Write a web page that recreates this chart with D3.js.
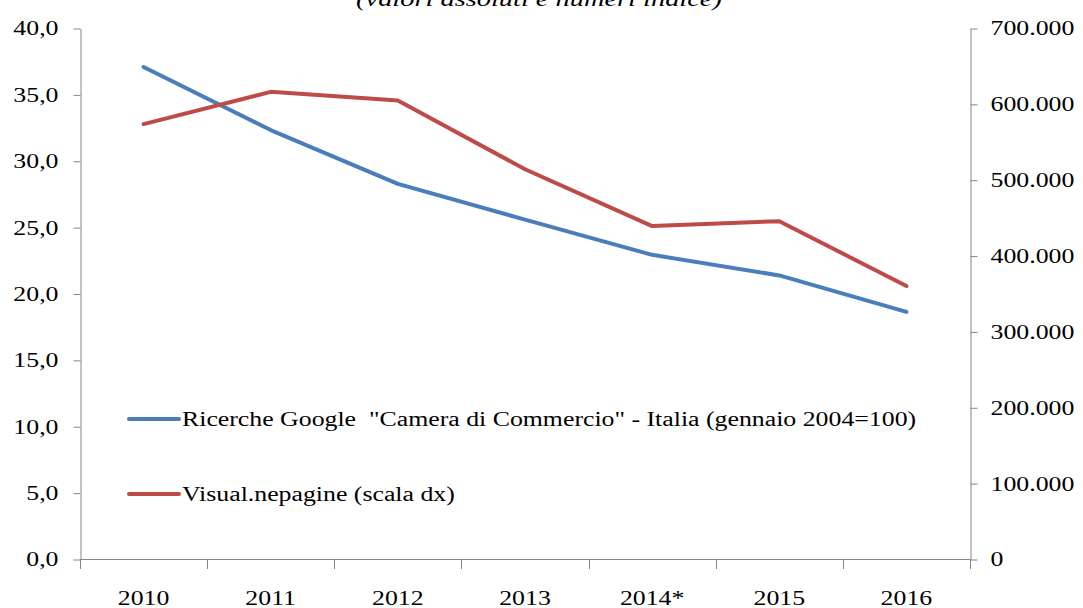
<html>
<head>
<script src="https://d3js.org/d3.v7.min.js"></script>
<style>
body { margin: 0; background: #fff; }
svg text { font-family: 'Liberation Serif', 'Times New Roman', serif; fill: #000; }
</style>
</head>
<body>
<svg width="1083" height="608"></svg>
<script>
var years = ["2010", "2011", "2012", "2013", "2014*", "2015", "2016"];
var googleSearches = [37.1, 32.35, 28.3, 25.6, 22.95, 21.4, 18.65];
var visualPages = [574000, 616500, 605000, 514500, 439500, 446000, 360500];
var leftTicks = [0, 5, 10, 15, 20, 25, 30, 35, 40];
var rightTicks = [0, 100000, 200000, 300000, 400000, 500000, 600000, 700000];
var seriesNames = ["Ricerche Google  \"Camera di Commercio\" - Italia (gennaio 2004=100)", "Visual.nepagine (scala dx)"];
var title = "(valori assoluti e numeri indice)";

var svg = d3.select("svg");
var stretch = 1.29; // the picture's text is a bit wide
var axisColor = "#868686";

var x = d3.scaleBand().domain(years).range([80, 970]);
var yL = d3.scaleLinear().domain([0, 40]).range([559.5, 28.5]);
var yR = d3.scaleLinear().domain([0, 700000]).range([559.5, 28.5]);

var it = d3.formatLocale({decimal: ",", thousands: ".", grouping: [3], currency: ["", ""]});
var fmtL = it.format(".1f");
var fmtR = it.format(",.0f");

function widen(sel) {
	sel.each(function() {
		var w = this.getComputedTextLength();
		d3.select(this).attr("textLength", w * stretch).attr("lengthAdjust", "spacingAndGlyphs");
	});
}

// left axis
var gl = svg.append("g").attr("transform", "translate(80.5,0)")
	.call(d3.axisLeft(yL).tickValues(leftTicks).tickFormat(fmtL).tickSize(7).tickSizeOuter(0).tickPadding(15));
// right axis
var gr = svg.append("g").attr("transform", "translate(970.5,0)")
	.call(d3.axisRight(yR).tickValues(rightTicks).tickFormat(fmtR).tickSize(7).tickSizeOuter(0).tickPadding(13));

[gl, gr].forEach(function(g) {
	g.select(".domain").attr("stroke", axisColor);
	g.selectAll(".tick line").attr("stroke", axisColor);
	g.selectAll(".tick text").attr("font-size", 20).attr("font-family", null).attr("fill", "#000").call(widen);
});

// category axis
var gx = svg.append("g");
gx.append("line").attr("x1", 80).attr("x2", 970.5).attr("y1", 559.5).attr("y2", 559.5).attr("stroke", axisColor);
var bounds = years.map(function(d) { return x(d); }).concat([x.range()[1]]);
gx.selectAll("line.tk").data(bounds).enter().append("line").attr("class", "tk")
	.attr("x1", function(d) { return Math.round(d) + 0.5; })
	.attr("x2", function(d) { return Math.round(d) + 0.5; })
	.attr("y1", 559.5).attr("y2", 569).attr("stroke", axisColor);
gx.selectAll("text").data(years).enter().append("text")
	.attr("x", function(d) { return x(d) + x.bandwidth() / 2; })
	.attr("y", 605)
	.attr("text-anchor", "middle")
	.attr("font-size", 20)
	.text(function(d) { return d; })
	.call(widen);

// lines
var lineL = d3.line().x(function(d, i) { return x(years[i]) + x.bandwidth() / 2; }).y(function(d) { return yL(d); });
var lineR = d3.line().x(function(d, i) { return x(years[i]) + x.bandwidth() / 2; }).y(function(d) { return yR(d); });

svg.append("path").attr("d", lineL(googleSearches)).attr("fill", "none")
	.attr("stroke", "#4A7EBB").attr("stroke-width", 4).attr("stroke-linecap", "round").attr("stroke-linejoin", "round");
svg.append("path").attr("d", lineR(visualPages)).attr("fill", "none")
	.attr("stroke", "#BE4B48").attr("stroke-width", 4).attr("stroke-linecap", "round").attr("stroke-linejoin", "round");

// legend
var legend = svg.append("g");
var legColors = ["#4A7EBB", "#BE4B48"];
var legY = [419, 494];
seriesNames.forEach(function(name, i) {
	legend.append("line").attr("x1", 129).attr("x2", 179).attr("y1", legY[i]).attr("y2", legY[i])
		.attr("stroke", legColors[i]).attr("stroke-width", 4).attr("stroke-linecap", "round");
	legend.append("text").attr("x", 182).attr("y", legY[i]).attr("dy", "0.35em")
		.attr("font-size", 20).style("white-space", "pre").text(name).call(widen);
});

// title, cut off at the top as in the picture
svg.append("text").attr("x", 539).attr("y", 6).attr("text-anchor", "middle")
	.attr("font-size", 22).attr("font-style", "italic").text(title).call(widen);
</script>
</body>
</html>
